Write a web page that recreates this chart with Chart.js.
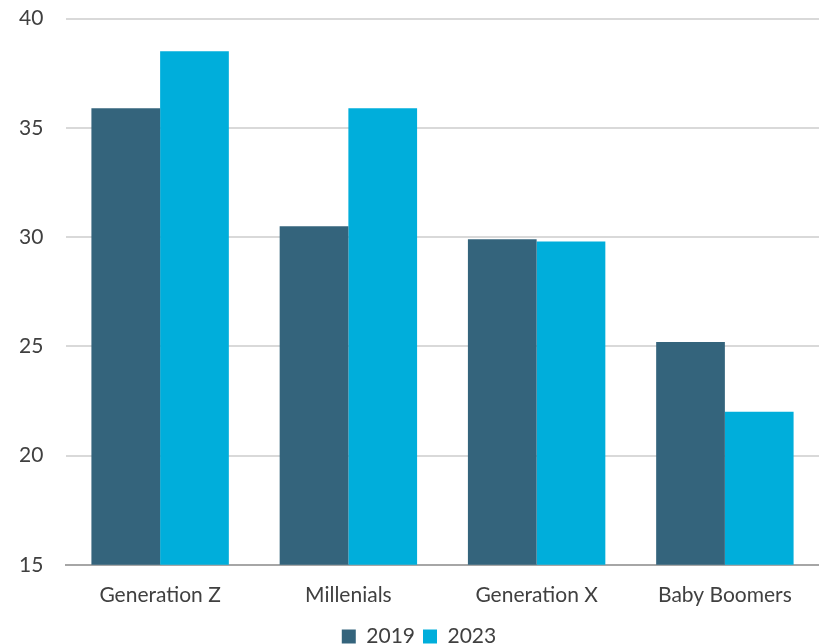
<!DOCTYPE html>
<html>
<head>
<meta charset="utf-8">
<script src="https://cdn.jsdelivr.net/npm/chart.js@4"></script>
<style>
  html, body { margin: 0; padding: 0; background: #fff; }
  #wrap { width: 819px; height: 644px; position: relative; }
</style>
</head>
<body>
<div id="wrap"><canvas id="chart"></canvas></div>
<script>
const categories = ['Generation Z', 'Millenials', 'Generation X', 'Baby Boomers'];
const values2019 = [35.9, 30.5, 29.9, 25.2];
const values2023 = [38.5, 35.9, 29.8, 22.0];
const seriesLabels = ['2019', '2023'];

const ctx = document.getElementById('chart').getContext('2d');
new Chart(ctx, {
    type: 'bar',
    data: {
        labels: categories,
        datasets: [
            { label: seriesLabels[0], data: values2019, backgroundColor: '#34647c', categoryPercentage: 0.73, barPercentage: 1 },
            { label: seriesLabels[1], data: values2023, backgroundColor: '#00aedb', categoryPercentage: 0.73, barPercentage: 1 }
        ]
    },
    options: {
        responsive: true,
        maintainAspectRatio: false,
        animation: false,
        layout: { padding: { top: 0, right: 0, left: 19, bottom: -13 } },
        plugins: {
            legend: {
                position: 'bottom',
                labels: {
                    color: '#404040',
                    font: { family: 'Lato', size: 21 },
                    boxWidth: 14, boxHeight: 14, padding: 8
                }
            },
            tooltip: { enabled: false }
        },
        scales: {
            x: {
                grid: { display: false },
                border: { color: '#a6a6a6', width: 2 },
                ticks: { color: '#404040', font: { family: 'Lato', size: 21 }, padding: 10 }
            },
            y: {
                min: 15, max: 40,
                afterFit: (scale) => { scale.width = 47; },
                ticks: { stepSize: 5, color: '#404040', font: { family: 'Lato', size: 21 }, padding: 6, crossAlign: 'far' },
                grid: { color: '#d9d9d9', lineWidth: 2, drawTicks: false },
                border: { display: false }
            }
        }
    }
});
</script>
</body>
</html>
